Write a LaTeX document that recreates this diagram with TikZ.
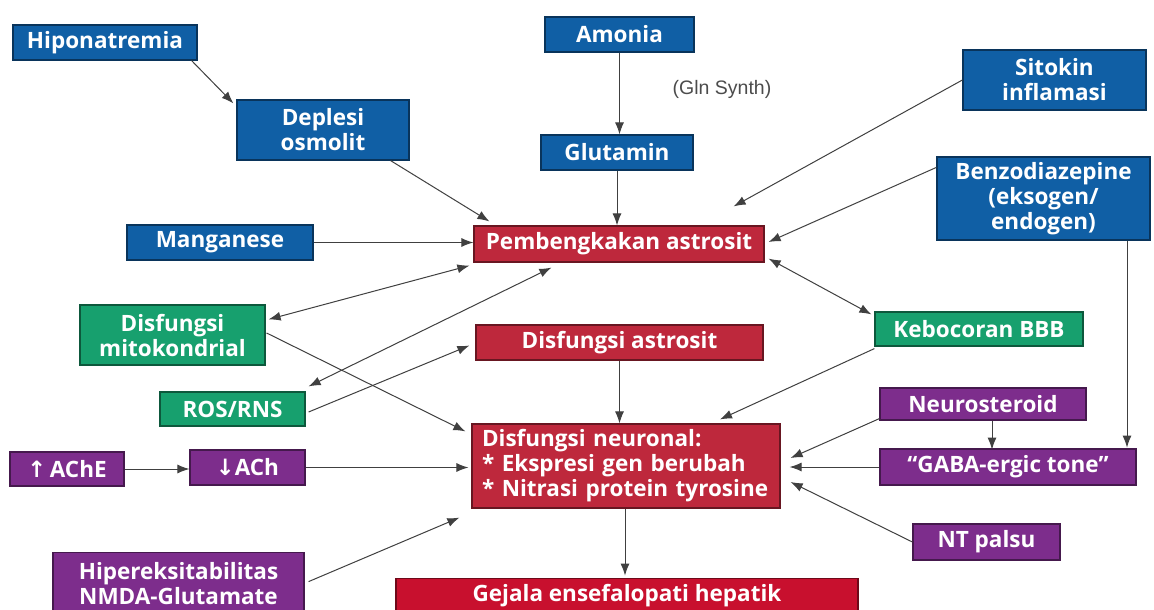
\documentclass[tikz,border=0pt]{standalone}
\usepackage{fontspec}
\setmainfont{Open Sans}
\newfontfamily\symfont{DejaVu Sans}
\newfontfamily\lsans{Liberation Sans}
\usetikzlibrary{arrows.meta,calc}
\definecolor{cblue}{HTML}{105FA5}
\definecolor{cred}{HTML}{BE283C}
\definecolor{cdred}{HTML}{C8102E}
\definecolor{cgreen}{HTML}{17A06E}
\definecolor{cpurple}{HTML}{7D2D8C}
\tikzset{
  box/.style={rectangle, fill=#1, draw=#1!55!black, line width=1.2pt, text=white,
    font=\bfseries\fontsize{22.5}{25}\selectfont, align=center, inner sep=0pt},
  conn/.style={draw=black!75, line width=1pt, -{Latex[length=12pt,width=9pt]}},
  dconn/.style={draw=black!75, line width=1pt, {Latex[length=12pt,width=9pt]}-{Latex[length=12pt,width=9pt]}},
}
\begin{document}
\begin{tikzpicture}[x=1pt,y=-1pt]
\path[use as bounding box, clip] (0,0) rectangle (1154,610);
\fill[white] (0,0) rectangle (1154,610);

% blue
\node[box=cblue, minimum width=184pt, minimum height=35pt] (hipo) at (105,42.5) {Hiponatremia};
\node[box=cblue, minimum width=149pt, minimum height=35pt] (amonia) at (619.5,34.5) {Amonia};
\node[box=cblue, minimum width=152pt, minimum height=35pt] (glut) at (617,152.5) {Glutamin};
\node[box=cblue, minimum width=172pt, minimum height=60pt] (deplesi) at (323,130) {Deplesi\\osmolit};
\node[box=cblue, minimum width=183pt, minimum height=60pt] (sitokin) at (1054.5,80) {Sitokin\\inflamasi};
\node[box=cblue, minimum width=213pt, minimum height=83pt] (benzo) at (1043.5,198.5) {Benzodiazepine\\(eksogen/\\endogen)};
\node[box=cblue, minimum width=186pt, minimum height=35pt] (mangan) at (220,242.5) {Manganese};
% red
\node[box=cred, minimum width=290pt, minimum height=36pt] (pemb) at (619,244) {Pembengkakan astrosit};
\node[box=cred, minimum width=287pt, minimum height=35pt] (dastro) at (619.5,342.5) {Disfungsi astrosit};
\node[box=cred, minimum width=308pt, minimum height=84pt, text width=288pt, align=left] (dneur) at (626,466)
  {Disfungsi neuronal:\\{*} Ekspresi gen berubah\\{*} Nitrasi protein tyrosine};
\node[box=cdred, minimum width=462pt, minimum height=34pt, anchor=north] (gejala) at (627,578) {Gejala ensefalopati hepatik};
% green
\node[box=cgreen, minimum width=185pt, minimum height=60pt] (mito) at (172.5,335) {Disfungsi\\mitokondrial};
\node[box=cgreen, minimum width=208pt, minimum height=34pt] (bbb) at (979,329) {Kebocoran BBB};
\node[box=cgreen, minimum width=145pt, minimum height=34pt] (ros) at (232.5,409) {ROS/RNS};
% purple
\node[box=cpurple, minimum width=206pt, minimum height=32pt] (neuro) at (983,404) {Neurosteroid};
\node[box=cpurple, minimum width=114pt, minimum height=34pt] (ache) at (67,469) {{\symfont\bfseries↑}\,AChE};
\node[box=cpurple, minimum width=115pt, minimum height=35pt] (ach) at (247.5,467.5) {{\symfont\bfseries↓}ACh};
\node[box=cpurple, minimum width=256pt, minimum height=36pt] (gaba) at (1008,467) {“GABA-ergic tone”};
\node[box=cpurple, minimum width=147pt, minimum height=36pt] (nt) at (986.5,542) {NT palsu};
\node[box=cpurple, minimum width=251pt, minimum height=62pt, anchor=north] (hiper) at (178.5,552) {Hipereksitabilitas\\NMDA-Glutamate};

\node[text=black!70, font=\lsans\fontsize{19.5}{21}\selectfont] (gln) at (722,89) {(Gln Synth)};

% connectors
\draw[conn] ($(hipo.south east)+(-6,0)$) -- ($(deplesi.north west)+(-3,4)$);
\draw[conn] (amonia.south) -- (amonia.south |- glut.north);
\draw[conn] (glut.south) -- (glut.south |- pemb.north);
\draw[conn] ($(deplesi.south east)+(-19,0)$) -- ($(pemb.north west)+(16,-4)$);
\draw[conn] (mangan.east) -- (mangan.east -| pemb.west);
\draw[conn] (sitokin.west) -- ($(pemb.north east)+(-31,-19)$);
\draw[conn] ($(benzo.north west)+(0,11)$) -- ($(pemb.east)+(4,-2)$);
\draw[dconn] ($(pemb.south east)+(4,-4)$) -- ($(bbb.north west)+(-3,3)$);
\draw[dconn] ($(pemb.south west)+(-4,3)$) -- ($(mito.north east)+(3,15)$);
\draw[dconn] ($(pemb.south west)+(78,5)$) -- ($(ros.north east)+(3,-5)$);
\draw[conn] ($(ros.east)+(3,3)$) -- ($(dastro.west)+(-6,3)$);
\draw[conn] ($(mito.east)+(1,-2)$) -- ($(dneur.north west)+(-6,8)$);
\draw[conn] (ache.east) -- (ache.east -| ach.west);
\draw[conn] (ach.east) -- ($(ach.east -| dneur.west)+(-3,0)$);
\draw[conn] ($(hiper.east)+(4,-2)$) -- ($(dneur.south west)+(-12,9)$);
\draw[conn] (dastro.south) -- (dastro.south |- dneur.north);
\draw[conn] ($(dneur.south)+(-1,0)$) -- ($(dneur.south -| gejala.north)+(-2,67)$);
\draw[conn] ($(bbb.south west)+(0,2)$) -- ($(dneur.north)+(94,-4)$);
\draw[conn] ($(neuro.south west)+(0,-2)$) -- ($(dneur.east)+(10,-8)$);
\draw[conn] ($(neuro.south)+(9,0)$) -- ($(neuro.south)+(9,29)$);
\draw[conn] ($(benzo.south)+(83.5,0)$) -- ($(benzo.south)+(83.5,207)$);
\draw[conn] (gaba.west) -- ($(gaba.west -| dneur.east)+(9,0)$);
\draw[conn] (nt.west) -- ($(dneur.east)+(10,16)$);
\end{tikzpicture}
\end{document}
